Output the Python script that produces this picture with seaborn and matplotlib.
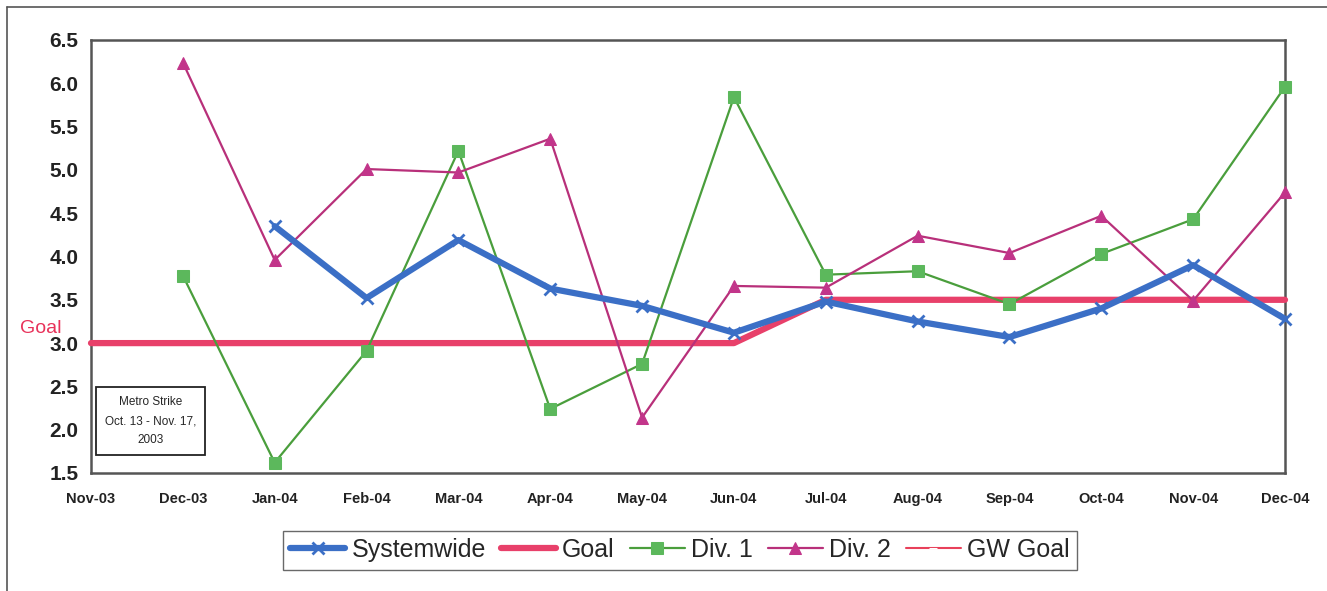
import numpy as np
import pandas as pd
import matplotlib
matplotlib.use("Agg")
import matplotlib.pyplot as plt
import seaborn as sns

months = ["Nov-03", "Dec-03", "Jan-04", "Feb-04", "Mar-04", "Apr-04", "May-04",
          "Jun-04", "Jul-04", "Aug-04", "Sep-04", "Oct-04", "Nov-04", "Dec-04"]
systemwide = [np.nan, np.nan, 4.35, 3.52, 4.19, 3.63, 3.43, 3.12, 3.48, 3.25, 3.07, 3.40, 3.90, 3.28]
goal = [3.0, 3.0, 3.0, 3.0, 3.0, 3.0, 3.0, 3.0, 3.5, 3.5, 3.5, 3.5, 3.5, 3.5]
div1 = [np.nan, 3.78, 1.62, 2.91, 5.22, 2.24, 2.76, 5.84, 3.79, 3.83, 3.45, 4.03, 4.43, 5.96]
div2 = [np.nan, 6.24, 3.96, 5.01, 4.97, 5.36, 2.14, 3.66, 3.64, 4.24, 4.04, 4.47, 3.49, 4.74]
gw_goal = [3.0, 3.0, 3.0, 3.0, 3.0, 3.0, 3.0, 3.0, 3.5, 3.5, 3.5, 3.5, 3.5, 3.5]
y_ticks = [1.5, 2.0, 2.5, 3.0, 3.5, 4.0, 4.5, 5.0, 5.5, 6.0, 6.5]

sns.set_style("white")
plt.rcParams['font.family'] = ['Liberation Sans', 'DejaVu Sans']

fig = plt.figure(figsize=(13.27, 5.91), dpi=100)
ax = fig.add_axes([91/1327, 1-473/591, (1285-91)/1327, (473-40)/591])

x = np.arange(len(months))
df = pd.DataFrame({"x": x, "Systemwide": systemwide, "Goal": goal,
                   "Div. 1": div1, "Div. 2": div2, "GW Goal": gw_goal})

c_sys = "#3b6fc6"
c_goal = "#e8406a"
c_d1 = "#4a9e3c"
c_d1m = "#5cb85c"
c_d2 = "#b8307a"
c_d2m = "#c2358a"
c_gw = "#e8405a"

sns.lineplot(data=df, x="x", y="GW Goal", ax=ax, color=c_gw, lw=1.5,
             marker="_", markersize=6, label="GW Goal", zorder=2, clip_on=False)
sns.lineplot(data=df, x="x", y="Goal", ax=ax, color=c_goal, lw=4.5,
             label="Goal", zorder=3, clip_on=False)
sns.lineplot(data=df, x="x", y="Div. 1", ax=ax, color=c_d1, lw=1.6,
             marker="s", markersize=8, markerfacecolor=c_d1m, markeredgecolor=c_d1m,
             label="Div. 1", zorder=4, clip_on=False)
sns.lineplot(data=df, x="x", y="Div. 2", ax=ax, color=c_d2, lw=1.6,
             marker="^", markersize=8, markerfacecolor=c_d2m, markeredgecolor=c_d2m,
             label="Div. 2", zorder=5, clip_on=False)
sns.lineplot(data=df, x="x", y="Systemwide", ax=ax, color=c_sys, lw=4.5,
             marker="x", markersize=9, markeredgewidth=2, markeredgecolor=c_sys,
             label="Systemwide", zorder=6, clip_on=False)

ax.set_xlim(0, len(months) - 1)
ax.set_ylim(1.5, 6.5)
ax.set_xticks(x)
ax.set_xticklabels(months, fontsize=10.5, fontweight="bold", color="#222222")
ax.set_yticks(y_ticks)
ax.set_yticklabels([f"{v:.1f}" for v in y_ticks], fontsize=15, fontweight="bold", color="#222222")
ax.tick_params(axis="x", direction="out", length=6, width=1, color="#444444", pad=8)
ax.tick_params(axis="y", direction="out", length=6, width=1, color="#444444", pad=3)
ax.set_xlabel("")
ax.set_ylabel("")
for s in ax.spines.values():
    s.set_color("#555555")
    s.set_linewidth(1.8)

# Goal label
ax.text(-0.55, 3.07, "Goal", color="#e8325a", fontsize=14, ha="center", va="bottom",
        transform=ax.transData, clip_on=False)

# Strike annotation
ax.text(0.65, 2.10, "Metro Strike\nOct. 13 - Nov. 17,\n2003", fontsize=8.5,
        ha="center", va="center", linespacing=1.75,
        bbox=dict(boxstyle="square,pad=0.75", fc="white", ec="#222222", lw=1.3),
        zorder=10)

# Legend in requested order
handles, labels = ax.get_legend_handles_labels()
order = ["Systemwide", "Goal", "Div. 1", "Div. 2", "GW Goal"]
hmap = dict(zip(labels, handles))
if ax.get_legend():
    ax.get_legend().remove()
leg = fig.legend([hmap[k] for k in order], order, loc="center",
                 bbox_to_anchor=(680/1327, 1-550/591), ncol=5, frameon=True,
                 fontsize=18, handlelength=2.2, columnspacing=0.6, handletextpad=0.25,
                 borderpad=0.3, fancybox=False)
leg.get_frame().set_edgecolor("#444444")
leg.get_frame().set_linewidth(1.0)

# outer chart border (left and top)
fig.add_artist(plt.Line2D([7/1327, 7/1327], [0, 1-7/591], color="#555555", lw=1.2))
fig.add_artist(plt.Line2D([7/1327, 1], [1-7/591, 1-7/591], color="#555555", lw=1.2))

fig.savefig("out.png", dpi=100)
